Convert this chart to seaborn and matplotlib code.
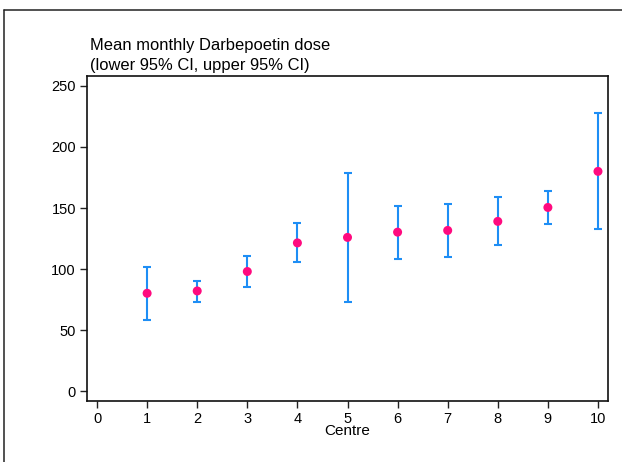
import matplotlib
matplotlib.use("Agg")
import matplotlib.pyplot as plt
from matplotlib.lines import Line2D
import pandas as pd
import seaborn as sns

# values
centres = [1, 2, 3, 4, 5, 6, 7, 8, 9, 10]
mean_dose = [80.3, 82.2, 98.1, 121.5, 126.0, 130.3, 131.7, 139.1, 150.5, 180.0]
lower_ci = [58.2, 73.5, 85.2, 106.0, 73.0, 108.2, 109.8, 119.4, 137.1, 132.5]
upper_ci = [102.0, 90.4, 110.9, 137.5, 178.3, 151.6, 153.5, 159.0, 163.7, 227.6]
x_ticks = list(range(0, 11))
y_ticks = [0, 50, 100, 150, 200, 250]
title_lines = ["Mean monthly Darbepoetin dose", "(lower 95% CI, upper 95% CI)"]

df = pd.DataFrame({"Centre": centres, "mean": mean_dose,
                   "lo": lower_ci, "hi": upper_ci})

sns.set_theme(style="ticks")
plt.rcParams["font.family"] = ["Liberation Sans", "DejaVu Sans"]
plt.rcParams["text.color"] = "black"
plt.rcParams["xtick.color"] = "black"
plt.rcParams["ytick.color"] = "black"
plt.rcParams["axes.labelcolor"] = "black"

fig = plt.figure(figsize=(6.22, 4.62), dpi=100)
ax = fig.add_axes([87 / 622, 1 - 400.5 / 462, (608 - 87) / 622, (400.5 - 76) / 462])

ax.errorbar(df["Centre"], df["mean"],
            yerr=[df["mean"] - df["lo"], df["hi"] - df["mean"]],
            fmt="none", ecolor="#1e8ef5", elinewidth=1.5, capsize=3.2,
            capthick=1.5, zorder=2)
sns.scatterplot(data=df, x="Centre", y="mean", ax=ax, color="#ff0a7f",
                s=42, edgecolor="none", zorder=3)

ax.set_xlim(-0.2, 10.2)
ax.set_ylim(-7.4, 258)
ax.set_xticks(x_ticks)
ax.set_yticks(y_ticks)
ax.tick_params(axis="both", direction="out", length=5, width=1,
               labelsize=10.5, color="#222222", pad=3)
for s in ax.spines.values():
    s.set_visible(True)
    s.set_linewidth(1.2)
    s.set_color("#111111")
ax.set_xlabel("Centre", fontsize=11, labelpad=-1)
ax.set_ylabel("")

# two-line title, left aligned just right of the axis
fig.text(90 / 622, 1 - 50 / 462, title_lines[0], ha="left", va="baseline",
         fontsize=11.9)
fig.text(90 / 622, 1 - 70 / 462, title_lines[1], ha="left", va="baseline",
         fontsize=11.9)

# outer frame
fig.add_artist(Line2D([4 / 622, 4 / 622], [0, 1 - 10 / 462],
                      transform=fig.transFigure, color="#222222", lw=1.1))
fig.add_artist(Line2D([4 / 622, 1], [1 - 10 / 462, 1 - 10 / 462],
                      transform=fig.transFigure, color="#222222", lw=1.1))

fig.savefig("out.png", dpi=100, facecolor="white")
